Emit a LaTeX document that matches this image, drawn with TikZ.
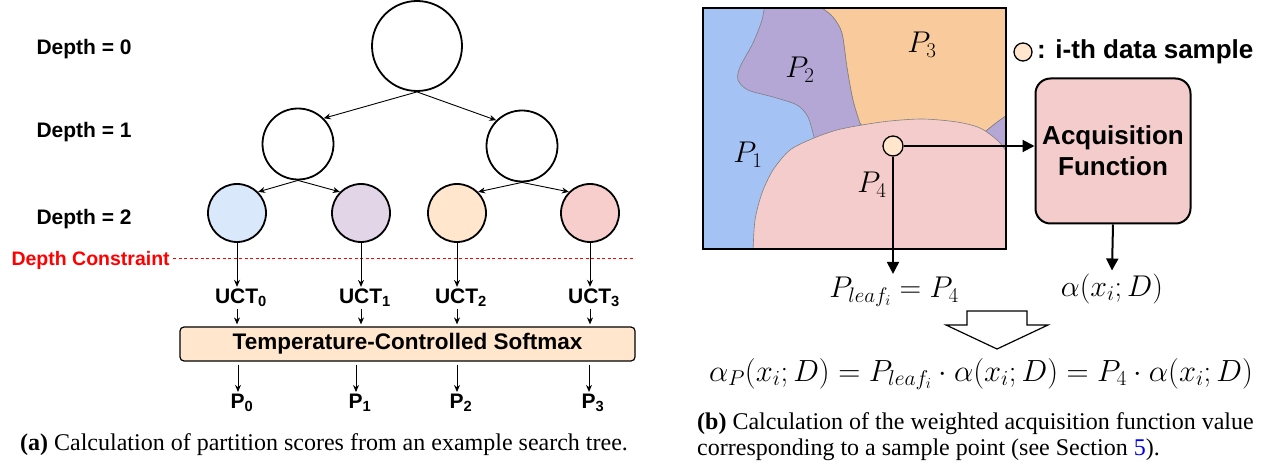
\RequirePackage{fix-cm}
\documentclass[tikz,border=0pt]{standalone}
\usepackage{xcolor}
\usepackage{amsmath}
\usepackage{fontspec}
\setmainfont{Liberation Serif}
\newfontfamily\drawfont{Liberation Sans}
\usepackage{tikz}
\usetikzlibrary{arrows.meta,positioning}

\definecolor{leafblue}{HTML}{DAE8FC}
\definecolor{leafpurple}{HTML}{E1D5E7}
\definecolor{leaforange}{HTML}{FFE6CC}
\definecolor{leafred}{HTML}{F8CECC}
\definecolor{partblue}{HTML}{A4C2F4}
\definecolor{partpurple}{HTML}{B4A7D6}
\definecolor{partorange}{HTML}{F9CB9C}
\definecolor{partpink}{HTML}{F4CCCC}
\definecolor{linkblue}{HTML}{0000EE}

\tikzset{
	treenode/.style={circle, draw, line width=1.8pt, inner sep=0pt},
	treeedge/.style={-{Stealth[length=7pt,width=6pt]}, line width=0.9pt},
	depthlabel/.style={anchor=west, font=\fontsize{21}{25}\selectfont\drawfont\bfseries},
	uctlabel/.style={inner sep=2pt, font=\fontsize{21}{24}\selectfont\drawfont\bfseries},
	thickarrow/.style={-{Triangle[length=12pt,width=12pt]}, line width=2pt},
	mathlabel/.style={font=\fontsize{30}{34}\selectfont},
	captext/.style={font=\fontsize{24}{26}\selectfont, inner sep=0pt},
	regionline/.style={draw=gray, line width=0.6pt}
}

\begin{document}
\begin{tikzpicture}[x=1pt, y=-1pt]
	\useasboundingbox (0,0) rectangle (1275,465);

	\node[depthlabel] (d0) at (33,49) {Depth = 0};
	\node[depthlabel] (d1) at (33,132) {Depth = 1};
	\node[depthlabel] (d2) at (33,219) {Depth = 2};

	\node[treenode, minimum size=90pt] (root) at (417,46) {};
	\node[treenode, minimum size=71pt] (nl) at (298,144) {};
	\node[treenode, minimum size=71pt] (nr) at (522,146) {};
	\node[treenode, fill=leafblue, minimum size=58pt] (lf0) at (237,213) {};
	\node[treenode, fill=leafpurple, minimum size=58pt] (lf1) at (361,213) {};
	\node[treenode, fill=leaforange, minimum size=58pt] (lf2) at (457,213) {};
	\node[treenode, fill=leafred, minimum size=58pt] (lf3) at (590,213) {};

	\draw[treeedge] (root.south) -- (nl.north east);
	\draw[treeedge] (root.south) -- (nr.north west);
	\draw[treeedge] (nl.south) -- (lf0.north east);
	\draw[treeedge] (nl.south) -- (lf1.north west);
	\draw[treeedge] (nr.south) -- (lf2.north east);
	\draw[treeedge] (nr.south) -- (lf3.north west);

	\node[anchor=west, text=red, font=\fontsize{19.5}{22}\selectfont\drawfont\bfseries] (dc) at (8,260) {Depth Constraint};
	\coordinate (dcend) at (635,258);
	\draw[red, line width=0.8pt, dash pattern=on 3pt off 2.5pt] (dc.east |- dcend) -- (dcend);

	\node[uctlabel] (u0) at (241,298) {UCT\textsubscript{0}};
	\node[uctlabel] (u1) at (365,298) {UCT\textsubscript{1}};
	\node[uctlabel] (u2) at (461,298) {UCT\textsubscript{2}};
	\node[uctlabel] (u3) at (594,298) {UCT\textsubscript{3}};

	\node[draw, fill=leaforange, rounded corners=4pt, line width=1.2pt, minimum width=455pt, minimum height=34pt,
		font=\fontsize{22.5}{26}\selectfont\drawfont\bfseries] (soft) at (407.5,344) {Temperature-Controlled Softmax};

	\node[uctlabel] (p0) at (242,403) {P\textsubscript{0}};
	\node[uctlabel] (p1) at (360,403) {P\textsubscript{1}};
	\node[uctlabel] (p2) at (461,403) {P\textsubscript{2}};
	\node[uctlabel] (p3) at (593,403) {P\textsubscript{3}};

	\draw[treeedge] (lf0.south) -- (lf0.south |- u0.north);
	\draw[treeedge] (lf1.south) -- (lf1.south |- u1.north);
	\draw[treeedge] (lf2.south) -- (lf2.south |- u2.north);
	\draw[treeedge] (lf3.south) -- (lf3.south |- u3.north);
	\draw[treeedge, shorten >=2pt] (lf0.south |- u0.south) -- (lf0.south |- soft.north);
	\draw[treeedge, shorten >=2pt] (lf1.south |- u1.south) -- (lf1.south |- soft.north);
	\draw[treeedge, shorten >=2pt] (lf2.south |- u2.south) -- (lf2.south |- soft.north);
	\draw[treeedge, shorten >=2pt] (lf3.south |- u3.south) -- (lf3.south |- soft.north);
	\draw[treeedge, shorten <=3pt] ([xshift=-4pt]p0.north |- soft.south) -- ([xshift=-4pt]p0.north);
	\draw[treeedge, shorten <=3pt] ([xshift=-4pt]p1.north |- soft.south) -- ([xshift=-4pt]p1.north);
	\draw[treeedge, shorten <=3pt] ([xshift=-4pt]p2.north |- soft.south) -- ([xshift=-4pt]p2.north);
	\draw[treeedge, shorten <=3pt] ([xshift=-4pt]p3.north |- soft.south) -- ([xshift=-4pt]p3.north);

	\node[captext] (capa) at (324,445) {\textbf{(a)} Calculation of partition scores from an example search tree.};

	\begin{scope}
		\clip (703,8) rectangle (1006,249);
		\fill[partblue] (703,8) rectangle (1006,249);
		\filldraw[fill=partpurple, regionline] plot[smooth] coordinates {(765,2) (762,20) (753,43) (740,67) (738,80) (748,90) (773,97) (797,105) (808,117) (814,137)}
			-- (820,200) -- (870,200) -- plot[smooth] coordinates {(860,123) (853,100) (847,67) (842,33) (833,17) (822,8) (812,2)} -- cycle;
		\filldraw[fill=partorange, regionline] plot[smooth] coordinates {(812,2) (822,8) (833,17) (842,33) (847,67) (853,100) (860,123)}
			-- (900,170) -- (985,170) -- plot[smooth] coordinates {(986,131) (996,123) (1010,113)} -- (1010,0) -- cycle;
		\filldraw[fill=partpurple, regionline] plot[smooth] coordinates {(986,131) (996,123) (1010,113)} -- (1010,170) -- (980,170) -- cycle;
		\filldraw[fill=partpink, regionline] plot[smooth] coordinates {(753,252) (755,220) (762,193) (773,170) (790,150) (814,138) (837,130) (862,125) (890,121) (923,119) (957,122) (980,128) (997,140) (1006,151) (1010,158)}
			-- (1012,255) -- (750,255) -- cycle;
	\end{scope}
	\draw[line width=2pt] (703,8) rectangle (1006,249);

	\node[mathlabel] (lp1) at (748,155) {$P_1$};
	\node[mathlabel] (lp2) at (800,70) {$P_2$};
	\node[mathlabel] (lp3) at (922,45) {$P_3$};
	\node[mathlabel] (lp4) at (872,185) {$P_4$};

	\node[circle, draw, fill=leaforange, line width=1.3pt, minimum size=20pt, inner sep=0pt] (sample) at (893,146) {};
	\node[draw, fill=partpink, rounded corners=15pt, line width=2pt, minimum width=155pt, minimum height=145pt, align=center,
		font=\fontsize{26}{31}\selectfont\drawfont\bfseries] (acq) at (1113,151) {Acquisition\\Function};
	\node[mathlabel] (leafeq) at (894,292) {$P_{leaf_i} = P_4$};
	\node[mathlabel] (alpha) at (1112,289) {$\alpha(x_i;D)$};

	\draw[thickarrow] (sample.east) -- (sample.east -| acq.west);
	\draw[thickarrow] (sample.south) -- (sample.south |- leafeq.north);
	\draw[thickarrow] (acq.south) -- (alpha.north);

	\node[circle, draw, fill=leaforange, line width=1.3pt, minimum size=18pt, inner sep=0pt] (legdot) at (1023,52) {};
	\node[right=1pt of legdot, font=\fontsize{26}{30}\selectfont\drawfont\bfseries] (legtxt) {: i-th data sample};

	\draw[line width=1.2pt, fill=white] (967,311) -- (1027,311) -- (1027,325) -- (1048,325) -- (997,349) -- (946,325) -- (967,325) -- cycle;
	\node[mathlabel, font=\fontsize{30.6}{34}\selectfont] (wacq) at (981,374) {$\alpha_P(x_i;D) = P_{leaf_i}\cdot\alpha(x_i;D) = P_4\cdot\alpha(x_i;D)$};

	\node[captext, anchor=north west, align=left] (capb) at (697,412) {\textbf{(b)} Calculation of the weighted acquisition function value\\corresponding to a sample point (see Section \textcolor{linkblue}{5}).};
\end{tikzpicture}
\end{document}
